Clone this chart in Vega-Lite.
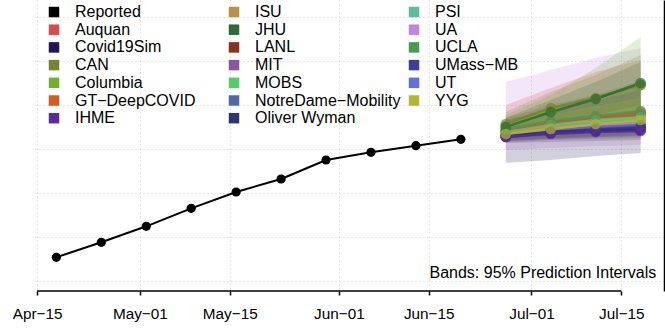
{
  "$schema": "https://vega.github.io/schema/vega-lite/v6.json",
  "width": 631,
  "height": 291,
  "autosize": {"type": "none"},
  "padding": {"left": 33, "top": 0, "right": 1, "bottom": 37},
  "background": "white",
  "config": {"view": {"stroke": null}, "font": "Liberation Sans"},
  "datasets": {
    "reported": [
      {"model": "Reported", "date": "2020-04-18", "med": 15390},
      {"model": "Reported", "date": "2020-04-25", "med": 18800},
      {"model": "Reported", "date": "2020-05-02", "med": 22430},
      {"model": "Reported", "date": "2020-05-09", "med": 26520},
      {"model": "Reported", "date": "2020-05-16", "med": 30230},
      {"model": "Reported", "date": "2020-05-23", "med": 33180},
      {"model": "Reported", "date": "2020-05-30", "med": 37500},
      {"model": "Reported", "date": "2020-06-06", "med": 39250},
      {"model": "Reported", "date": "2020-06-13", "med": 40750},
      {"model": "Reported", "date": "2020-06-20", "med": 42200}
    ],
    "forecast": [
      {"model": "UA", "date": "2020-06-27", "med": 43410, "lo": 39770, "hi": 55230},
      {"model": "UA", "date": "2020-07-04", "med": 44770, "lo": 40230, "hi": 57950},
      {"model": "UA", "date": "2020-07-11", "med": 45450, "lo": 40680, "hi": 60680},
      {"model": "UA", "date": "2020-07-18", "med": 45910, "lo": 40910, "hi": 62950},
      {"model": "Covid19Sim", "date": "2020-06-27", "med": 42730, "lo": 36820, "hi": 46590},
      {"model": "Covid19Sim", "date": "2020-07-04", "med": 43640, "lo": 37500, "hi": 48860},
      {"model": "Covid19Sim", "date": "2020-07-11", "med": 44090, "lo": 38410, "hi": 51140},
      {"model": "Covid19Sim", "date": "2020-07-18", "med": 44320, "lo": 39090, "hi": 53410},
      {"model": "Auquan", "date": "2020-06-27", "med": 44090, "lo": 42050, "hi": 50000},
      {"model": "Auquan", "date": "2020-07-04", "med": 46140, "lo": 42500, "hi": 53860},
      {"model": "Auquan", "date": "2020-07-11", "med": 47270, "lo": 42950, "hi": 57500},
      {"model": "Auquan", "date": "2020-07-18", "med": 48410, "lo": 43410, "hi": 60230},
      {"model": "LANL", "date": "2020-06-27", "med": 43860, "lo": 42050, "hi": 47050},
      {"model": "LANL", "date": "2020-07-04", "med": 45680, "lo": 42500, "hi": 50000},
      {"model": "LANL", "date": "2020-07-11", "med": 46820, "lo": 42730, "hi": 52270},
      {"model": "LANL", "date": "2020-07-18", "med": 47730, "lo": 43180, "hi": 54550},
      {"model": "GT−DeepCOVID", "date": "2020-06-27", "med": 44090, "lo": 42730, "hi": 45450},
      {"model": "GT−DeepCOVID", "date": "2020-07-04", "med": 45910, "lo": 43640, "hi": 47730},
      {"model": "GT−DeepCOVID", "date": "2020-07-11", "med": 46820, "lo": 44320, "hi": 49320},
      {"model": "GT−DeepCOVID", "date": "2020-07-18", "med": 47950, "lo": 44770, "hi": 51140},
      {"model": "PSI", "date": "2020-06-27", "med": 43860, "lo": 42270, "hi": 45680},
      {"model": "PSI", "date": "2020-07-04", "med": 45450, "lo": 42950, "hi": 47950},
      {"model": "PSI", "date": "2020-07-11", "med": 46590, "lo": 43410, "hi": 49770},
      {"model": "PSI", "date": "2020-07-18", "med": 47270, "lo": 43640, "hi": 51590},
      {"model": "MOBS", "date": "2020-06-27", "med": 43640, "lo": 42500, "hi": 45000},
      {"model": "MOBS", "date": "2020-07-04", "med": 45230, "lo": 43410, "hi": 47050},
      {"model": "MOBS", "date": "2020-07-11", "med": 46360, "lo": 44090, "hi": 48410},
      {"model": "MOBS", "date": "2020-07-18", "med": 47050, "lo": 44550, "hi": 49770},
      {"model": "ISU", "date": "2020-06-27", "med": 43640, "lo": 42500, "hi": 44770},
      {"model": "ISU", "date": "2020-07-04", "med": 45000, "lo": 43180, "hi": 46590},
      {"model": "ISU", "date": "2020-07-11", "med": 45910, "lo": 43860, "hi": 47950},
      {"model": "ISU", "date": "2020-07-18", "med": 46360, "lo": 44320, "hi": 49320},
      {"model": "MIT", "date": "2020-06-27", "med": 43180, "lo": 41820, "hi": 44770},
      {"model": "MIT", "date": "2020-07-04", "med": 44320, "lo": 42500, "hi": 46140},
      {"model": "MIT", "date": "2020-07-11", "med": 45000, "lo": 42950, "hi": 47050},
      {"model": "MIT", "date": "2020-07-18", "med": 45450, "lo": 43410, "hi": 47950},
      {"model": "NotreDame−Mobility", "date": "2020-06-27", "med": 43180, "lo": 41820, "hi": 44550},
      {"model": "NotreDame−Mobility", "date": "2020-07-04", "med": 44090, "lo": 42270, "hi": 45910},
      {"model": "NotreDame−Mobility", "date": "2020-07-11", "med": 44770, "lo": 42730, "hi": 46820},
      {"model": "NotreDame−Mobility", "date": "2020-07-18", "med": 45230, "lo": 42950, "hi": 47500},
      {"model": "UT", "date": "2020-06-27", "med": 42950, "lo": 41590, "hi": 44320},
      {"model": "UT", "date": "2020-07-04", "med": 44090, "lo": 42050, "hi": 45450},
      {"model": "UT", "date": "2020-07-11", "med": 44770, "lo": 42500, "hi": 46360},
      {"model": "UT", "date": "2020-07-18", "med": 45000, "lo": 42730, "hi": 47050},
      {"model": "UMass−MB", "date": "2020-06-27", "med": 42950, "lo": 41590, "hi": 44320},
      {"model": "UMass−MB", "date": "2020-07-04", "med": 43860, "lo": 42050, "hi": 45450},
      {"model": "UMass−MB", "date": "2020-07-11", "med": 44550, "lo": 42270, "hi": 46360},
      {"model": "UMass−MB", "date": "2020-07-18", "med": 45000, "lo": 42500, "hi": 47050},
      {"model": "Oliver Wyman", "date": "2020-06-27", "med": 42950, "lo": 41820, "hi": 44090},
      {"model": "Oliver Wyman", "date": "2020-07-04", "med": 43860, "lo": 42270, "hi": 45000},
      {"model": "Oliver Wyman", "date": "2020-07-11", "med": 44320, "lo": 42730, "hi": 45680},
      {"model": "Oliver Wyman", "date": "2020-07-18", "med": 44770, "lo": 42950, "hi": 46360},
      {"model": "IHME", "date": "2020-06-27", "med": 42730, "lo": 41360, "hi": 43860},
      {"model": "IHME", "date": "2020-07-04", "med": 43410, "lo": 41590, "hi": 44770},
      {"model": "IHME", "date": "2020-07-11", "med": 43860, "lo": 41820, "hi": 45450},
      {"model": "IHME", "date": "2020-07-18", "med": 44090, "lo": 42050, "hi": 46140},
      {"model": "UCLA", "date": "2020-06-27", "med": 44550, "lo": 42950, "hi": 46590},
      {"model": "UCLA", "date": "2020-07-04", "med": 46360, "lo": 43860, "hi": 49320},
      {"model": "UCLA", "date": "2020-07-11", "med": 47500, "lo": 44770, "hi": 52270},
      {"model": "UCLA", "date": "2020-07-18", "med": 48640, "lo": 45450, "hi": 55680},
      {"model": "Columbia", "date": "2020-06-27", "med": 45230, "lo": 43860, "hi": 47730},
      {"model": "Columbia", "date": "2020-07-04", "med": 48860, "lo": 45450, "hi": 52270},
      {"model": "Columbia", "date": "2020-07-11", "med": 51360, "lo": 46590, "hi": 58410},
      {"model": "Columbia", "date": "2020-07-18", "med": 54550, "lo": 48410, "hi": 65450},
      {"model": "CAN", "date": "2020-06-27", "med": 45680, "lo": 43180, "hi": 48410},
      {"model": "CAN", "date": "2020-07-04", "med": 49320, "lo": 44770, "hi": 52950},
      {"model": "CAN", "date": "2020-07-11", "med": 51590, "lo": 46140, "hi": 56820},
      {"model": "CAN", "date": "2020-07-18", "med": 54550, "lo": 47730, "hi": 61360},
      {"model": "JHU", "date": "2020-06-27", "med": 45000, "lo": 43640, "hi": 47050},
      {"model": "JHU", "date": "2020-07-04", "med": 48410, "lo": 45910, "hi": 51140},
      {"model": "JHU", "date": "2020-07-11", "med": 51360, "lo": 47730, "hi": 55230},
      {"model": "JHU", "date": "2020-07-18", "med": 55000, "lo": 50000, "hi": 59770},
      {"model": "YYG", "date": "2020-06-27", "med": 43410, "lo": 41590, "hi": 45450},
      {"model": "YYG", "date": "2020-07-04", "med": 44550, "lo": 41820, "hi": 47730},
      {"model": "YYG", "date": "2020-07-11", "med": 45680, "lo": 42050, "hi": 49770},
      {"model": "YYG", "date": "2020-07-18", "med": 46590, "lo": 42050, "hi": 51590}
    ],
    "note": [{"label": "Bands: 95% Prediction Intervals"}],
    "frame": [{"part": "axis"}]
  },
  "layer": [
    {
      "data": {"name": "forecast"},
      "mark": {"type": "area", "fillOpacity": 0.2, "strokeWidth": 0},
      "encoding": {
        "x": {
          "field": "date", "type": "temporal",
          "scale": {"type": "utc", "domain": [
            {"year": 2020, "month": 4, "date": 14, "hours": 8, "minutes": 38, "utc": true},
            {"year": 2020, "month": 7, "date": 21, "hours": 15, "minutes": 22, "utc": true}
          ]},
          "axis": {
            "values": [
              {"year": 2020, "month": 4, "date": 15, "utc": true},
              {"year": 2020, "month": 5, "date": 1, "utc": true},
              {"year": 2020, "month": 5, "date": 15, "utc": true},
              {"year": 2020, "month": 6, "date": 1, "utc": true},
              {"year": 2020, "month": 6, "date": 15, "utc": true},
              {"year": 2020, "month": 7, "date": 1, "utc": true},
              {"year": 2020, "month": 7, "date": 15, "utc": true}
            ],
            "format": "%b−%d",
            "title": null,
            "domain": false,
            "tickSize": 4, "tickColor": "black", "tickWidth": 1.5,
            "labelFontSize": 15.3, "labelFont": "Liberation Sans", "labelColor": "black",
            "labelPadding": 11, "labelFlush": false, "labelOverlap": false,
            "grid": true, "gridColor": "#cccccc", "gridDash": [1, 3], "gridWidth": 1
          }
        },
        "y": {
          "field": "lo", "type": "quantitative",
          "scale": {"domain": [7727, 73864], "nice": false, "zero": false},
          "axis": {
            "orient": "right", "title": null, "labels": false, "ticks": false,
            "domain": true, "domainColor": "black", "domainWidth": 1.5,
            "values": [10000, 20000, 30000, 40000, 50000, 60000, 70000],
            "grid": true, "gridColor": "#cccccc", "gridDash": [1, 3], "gridWidth": 1
          }
        },
        "y2": {"field": "hi"},
        "color": {
          "field": "model", "type": "nominal",
          "scale": {
            "domain": ["Reported", "Auquan", "Covid19Sim", "CAN", "Columbia", "GT−DeepCOVID", "IHME", "ISU", "JHU", "LANL", "MIT", "MOBS", "NotreDame−Mobility", "Oliver Wyman", "PSI", "UA", "UCLA", "UMass−MB", "UT", "YYG"],
            "range": ["#000000", "#D94A4A", "#1F1650", "#788230", "#70B22E", "#D65A22", "#5B2AA0", "#BB8F4C", "#2D6A35", "#86331F", "#8C56A8", "#56CC67", "#5067AD", "#2F3570", "#58BF9E", "#C184E0", "#489A52", "#3B3E9C", "#626FE0", "#B0B733"]
          },
          "legend": {
            "orient": "none", "legendX": 13, "legendY": 4, "columns": 3, "title": null,
            "symbolType": "square", "symbolSize": 110, "symbolOpacity": 1, "symbolStrokeWidth": 0,
            "labelFontSize": 16, "labelFont": "Liberation Sans", "labelColor": "black",
            "labelOffset": 13, "columnPadding": 5, "rowPadding": 1.7, "gridAlign": "all",
            "padding": 0, "labelLimit": 220,
            "encode": {"symbols": {"update": {"fill": {"scale": "color", "field": "value"}, "stroke": {"value": "transparent"}, "opacity": {"value": 1}, "fillOpacity": {"value": 1}}}}
          }
        }
      }
    },
    {
      "data": {"name": "reported"},
      "mark": {"type": "line", "strokeWidth": 2},
      "encoding": {
        "x": {"field": "date", "type": "temporal"},
        "y": {"field": "med", "type": "quantitative"},
        "color": {"field": "model", "type": "nominal"}
      }
    },
    {
      "data": {"name": "reported"},
      "mark": {"type": "point", "filled": true, "size": 85, "opacity": 1},
      "encoding": {
        "x": {"field": "date", "type": "temporal"},
        "y": {"field": "med", "type": "quantitative"},
        "color": {"field": "model", "type": "nominal"}
      }
    },
    {
      "data": {"name": "forecast"},
      "mark": {"type": "line", "strokeWidth": 2.5, "opacity": 0.85},
      "encoding": {
        "x": {"field": "date", "type": "temporal"},
        "y": {"field": "med", "type": "quantitative"},
        "color": {"field": "model", "type": "nominal"}
      }
    },
    {
      "data": {"name": "forecast"},
      "mark": {"type": "point", "filled": true, "size": 115, "opacity": 0.7},
      "encoding": {
        "x": {"field": "date", "type": "temporal"},
        "y": {"field": "med", "type": "quantitative"},
        "color": {"field": "model", "type": "nominal"}
      }
    },
    {
      "data": {"name": "frame"},
      "mark": {"type": "rule", "color": "black", "strokeWidth": 1.6},
      "encoding": {
        "x": {"datum": {"year": 2020, "month": 4, "date": 15, "utc": true}, "type": "temporal"},
        "x2": {"datum": {"year": 2020, "month": 7, "date": 15, "utc": true}},
        "y": {"datum": 7727, "type": "quantitative"}
      }
    },
    {
      "data": {"name": "note"},
      "mark": {"type": "text", "align": "right", "baseline": "alphabetic", "fontSize": 16, "font": "Liberation Sans", "color": "black"},
      "encoding": {
        "x": {"datum": {"year": 2020, "month": 7, "date": 20, "hours": 10, "minutes": 30, "utc": true}, "type": "temporal"},
        "y": {"datum": 10680, "type": "quantitative"},
        "text": {"field": "label"}
      }
    }
  ]
}
